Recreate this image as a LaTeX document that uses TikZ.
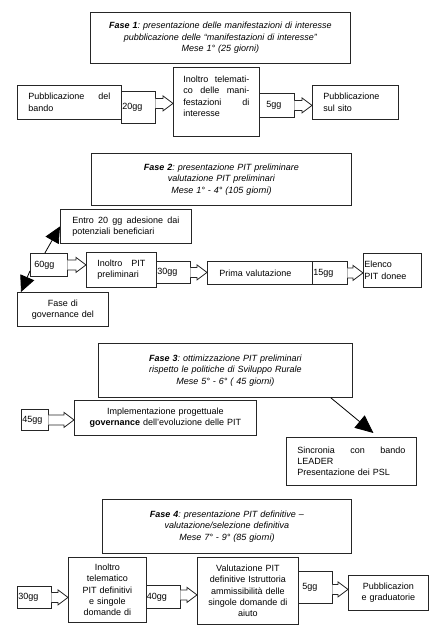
\documentclass[tikz,border=0pt]{standalone}
\usepackage{fontspec}
\setmainfont{Liberation Sans}
\frenchspacing
\usetikzlibrary{arrows.meta,calc}
\tikzstyle{box} = [rectangle, draw=black!85, line width=0.8pt, anchor=north west, inner sep=0pt, font=\fontsize{9}{11.3}\selectfont]
\tikzstyle{fase} = [box, align=center, font=\fontsize{9}{11.3}\selectfont\itshape]
\tikzstyle{txt_l} = [box, align=left]
\tikzstyle{txt_c} = [box, align=center]
\tikzstyle{gg} = [box, align=left]
\tikzstyle{gg_arrow} = [draw=black!85, line width=0.8pt, fill=white]
\tikzstyle{pointer} = [draw=black, line width=0.8pt, -{Triangle[length=16pt, width=15pt]}]

% hollow block arrow from a "gg" callout to the next box
\newcommand{\ggto}[3][0]{%
  \draw [gg_arrow] let \p1 = ($(#2.east)+(0,#1)$), \p2 = (#3.west) in
    (\x1-0.5pt,\y1+5pt) -- (\x2-10pt,\y1+5pt) -- (\x2-10pt,\y1+7.5pt) -- (\x2,\y1)
    -- (\x2-10pt,\y1-7.5pt) -- (\x2-10pt,\y1-5pt) -- (\x1-0.5pt,\y1-5pt);
}

\begin{document}
\begin{tikzpicture}[x=1pt, y=-1pt]
\useasboundingbox (0,0) rectangle (447,632);

% Fase 1
\node [fase, minimum width=260pt, minimum height=51pt, text width=250pt] (f1) at (90,12) {{\bfseries Fase 1}: presentazione delle manifestazioni di interesse\\pubblicazione delle “manifestazioni di interesse”\\Mese 1° (25 giorni)};
\node [txt_l, minimum width=104pt, minimum height=34pt, text width=82pt] (bando) at (17,85) {Pubblicazione \hfill del\\bando};
\node [gg, minimum width=34pt, minimum height=32pt, text width=32pt] (g20) at (121,91) {20gg};
\node [txt_l, minimum width=86pt, minimum height=69pt, text width=66pt] (tel1) at (173,67) {Inoltro \hfill telemati-\\co \hfill delle \hfill mani-\\festazioni \hfill di\\interesse\\~};
\node [gg, minimum width=35pt, minimum height=24pt, text width=21pt] (g5) at (259,93) {5gg};
\node [txt_l, minimum width=86pt, minimum height=34pt, text width=64pt] (sito) at (312,85) {Pubblicazione\\sul sito};
\ggto[-4]{g20}{tel1}
\ggto{g5}{sito}

% Fase 2
\node [fase, minimum width=260pt, minimum height=52pt, text width=250pt] (f2) at (91,153) {{\bfseries Fase 2}: presentazione PIT preliminare\\valutazione PIT preliminari\\Mese 1° - 4° (105 giorni)};
\node [txt_l, minimum width=131pt, minimum height=34pt, text width=107pt] (entro) at (60,209) {Entro \hfill 20 \hfill gg \hfill adesione \hfill dai\\potenziali beneficiari};
\node [gg, minimum width=37pt, minimum height=23pt, text width=29pt] (g60) at (30,253) {60gg};
\node [txt_l, minimum width=70pt, minimum height=35pt, text width=48pt] (pit) at (86,252) {Inoltro \hfill PIT\\preliminari};
\node [gg, minimum width=34pt, minimum height=22pt, text width=32pt] (g30) at (156,261) {30gg};
\node [txt_l, minimum width=105pt, minimum height=23pt, text width=81pt] (prima) at (207,261) {Prima valutazione};
\node [gg, minimum width=35pt, minimum height=23pt, text width=33pt] (g15) at (312,261) {15gg};
\node [txt_l, minimum width=58pt, minimum height=34pt, text width=56pt] (elenco) at (363,253) {Elenco\\PIT donee};
\node [txt_c, minimum width=91pt, minimum height=34pt, text width=80pt] (gov) at (17,292) {Fase di\\governance del};
\ggto{g60}{pit}
\ggto{g30}{prima}
\ggto{g15}{elenco}
\path [pointer] ([xshift=-4pt]g60.north) -- (entro.west);
\path [pointer] ([yshift=-6pt]g60.west) -- ([xshift=4pt]gov.north west);

% Fase 3
\node [fase, minimum width=254pt, minimum height=54pt, text width=244pt] (f3) at (98,343) {{\bfseries Fase 3}: ottimizzazione PIT preliminari\\rispetto le politiche di Sviluppo Rurale\\Mese 5° - 6° ( 45 giorni)};
\node [gg, minimum width=27pt, minimum height=21pt, text width=25pt] (g45) at (21,409) {45gg};
\node [txt_c, minimum width=182pt, minimum height=35pt, text width=170pt] (impl) at (74,400) {Implementazione progettuale\\\textbf{governance} dell’evoluzione delle PIT};
\node [txt_l, minimum width=130pt, minimum height=48pt, text width=108pt] (sinc) at (286,437) {Sincronia \hfill con \hfill bando\\LEADER\\Presentazione dei PSL};
\ggto{g45}{impl}
\path [pointer, -{Triangle[length=18pt, width=16pt]}] ([xshift=-22pt]f3.south east) -- ([xshift=22pt, yshift=4pt]sinc.north);

% Fase 4
\node [fase, minimum width=249pt, minimum height=54pt, text width=239pt] (f4) at (102,499) {{\bfseries Fase 4}: presentazione PIT definitive –\\valutazione/selezione definitiva\\Mese 7° - 9° (85 giorni)};
\node [gg, minimum width=34pt, minimum height=22pt, text width=32pt] (g30b) at (17,586) {30gg};
\node [txt_c, minimum width=78pt, minimum height=65pt, text width=74pt] (tel4) at (68,557) {Inoltro\\telematico\\PIT definitivi\\e singole\\domande di};
\node [gg, minimum width=34pt, minimum height=23pt, text width=33pt] (g40) at (146,585) {40gg};
\node [txt_c, minimum width=101pt, minimum height=67pt, text width=97pt] (val) at (197,557) {Valutazione PIT\\definitive Istruttoria\\ammissibilità delle\\singole domande di\\aiuto};
\node [gg, minimum width=34pt, minimum height=32pt, text width=26pt] (g5b) at (298,571) {5gg};
\node [txt_c, minimum width=80pt, minimum height=35pt, text width=76pt] (grad) at (348,575) {Pubblicazion\\e graduatorie};
\ggto{g30b}{tel4}
\ggto[-2]{g40}{val}
\ggto[2]{g5b}{grad}
\end{tikzpicture}
\end{document}
